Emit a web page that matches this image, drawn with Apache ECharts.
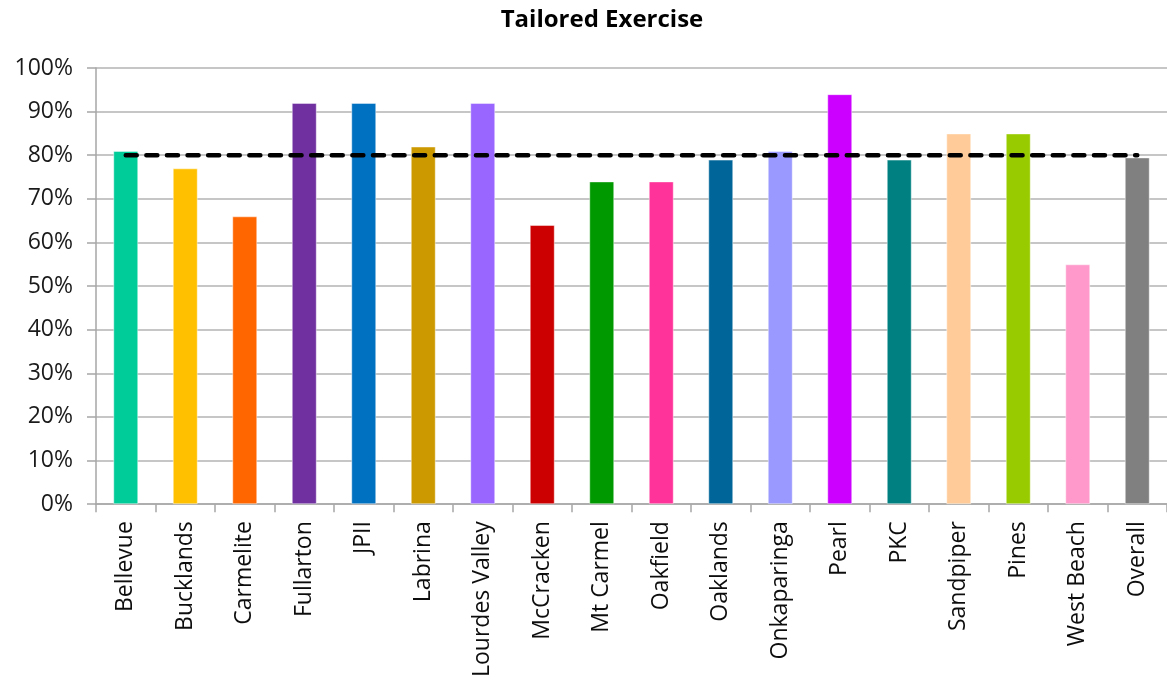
<!DOCTYPE html>
<html>
<head>
<meta charset="utf-8">
<script src="https://cdn.jsdelivr.net/npm/echarts@6/dist/echarts.min.js"></script>
<style>
  html, body { margin: 0; padding: 0; background: #ffffff; }
  #chart { width: 1167px; height: 680px; }
</style>
</head>
<body>
<div id="chart"></div>
<script>
// Share of clients with a tailored exercise program, by site
const sites = ['Bellevue', 'Bucklands', 'Carmelite', 'Fullarton', 'JPII', 'Labrina',
  'Lourdes Valley', 'McCracken', 'Mt Carmel', 'Oakfield', 'Oaklands', 'Onkaparinga',
  'Pearl', 'PKC', 'Sandpiper', 'Pines', 'West Beach', 'Overall'];
const shares = [0.81, 0.77, 0.66, 0.92, 0.92, 0.82, 0.92, 0.64, 0.74, 0.74, 0.79, 0.81,
  0.94, 0.79, 0.85, 0.85, 0.55, 0.795];
const target = [0.80, 0.80, 0.80, 0.80, 0.80, 0.80, 0.80, 0.80, 0.80, 0.80, 0.80, 0.80,
  0.80, 0.80, 0.80, 0.80, 0.80, 0.80];
const siteColors = ['#00CC99', '#FFC000', '#FF6600', '#7030A0', '#0070C0', '#CC9900',
  '#9966FF', '#CC0000', '#009900', '#FF3399', '#006699', '#9999FF',
  '#CC00FF', '#008080', '#FFCC99', '#99CC00', '#FF99CC', '#808080'];

const font = '"Open Sans", "Liberation Sans", sans-serif';
const chart = echarts.init(document.getElementById('chart'), null, { renderer: 'canvas' });

chart.setOption({
  animation: false,
  backgroundColor: '#ffffff',
  title: {
    text: 'Tailored Exercise',
    left: 597,
    textAlign: 'center',
    top: 3,
    textStyle: { fontFamily: font, fontWeight: 'bold', fontSize: 24, color: '#000000' }
  },
  grid: { left: 96, top: 68, width: 1076, height: 437, containLabel: false },
  xAxis: {
    type: 'category',
    data: sites,
    axisLine: { lineStyle: { color: '#a6a6a6', width: 1.5 } },
    axisTick: { show: true, length: 8, lineStyle: { color: '#a6a6a6', width: 1.5 } },
    axisLabel: {
      rotate: 90,
      margin: 17,
      fontFamily: font,
      fontSize: 23,
      color: '#0d0d0d'
    }
  },
  yAxis: {
    type: 'value',
    min: 0,
    max: 1,
    interval: 0.1,
    axisLine: { show: true, lineStyle: { color: '#a6a6a6', width: 1.5 } },
    axisTick: { show: true, length: 9, lineStyle: { color: '#a6a6a6', width: 1.5 } },
    splitLine: { lineStyle: { color: '#b3b3b3', width: 1.5 } },
    axisLabel: {
      margin: 23,
      fontFamily: font,
      fontSize: 23,
      color: '#1a1a1a',
      formatter: v => Math.round(v * 100) + '%'
    }
  },
  series: [
    {
      type: 'bar',
      barWidth: 25,
      data: shares.map((v, i) => ({
        value: v,
        itemStyle: { color: siteColors[i], borderColor: 'rgba(255,255,255,0.45)', borderWidth: 1 }
      })),
      z: 2
    },
    {
      type: 'line',
      data: target,
      symbol: 'none',
      z: 5,
      lineStyle: { color: '#000000', width: 4.5, type: [11, 9.6], cap: 'round' }
    }
  ]
});
</script>
</body>
</html>
